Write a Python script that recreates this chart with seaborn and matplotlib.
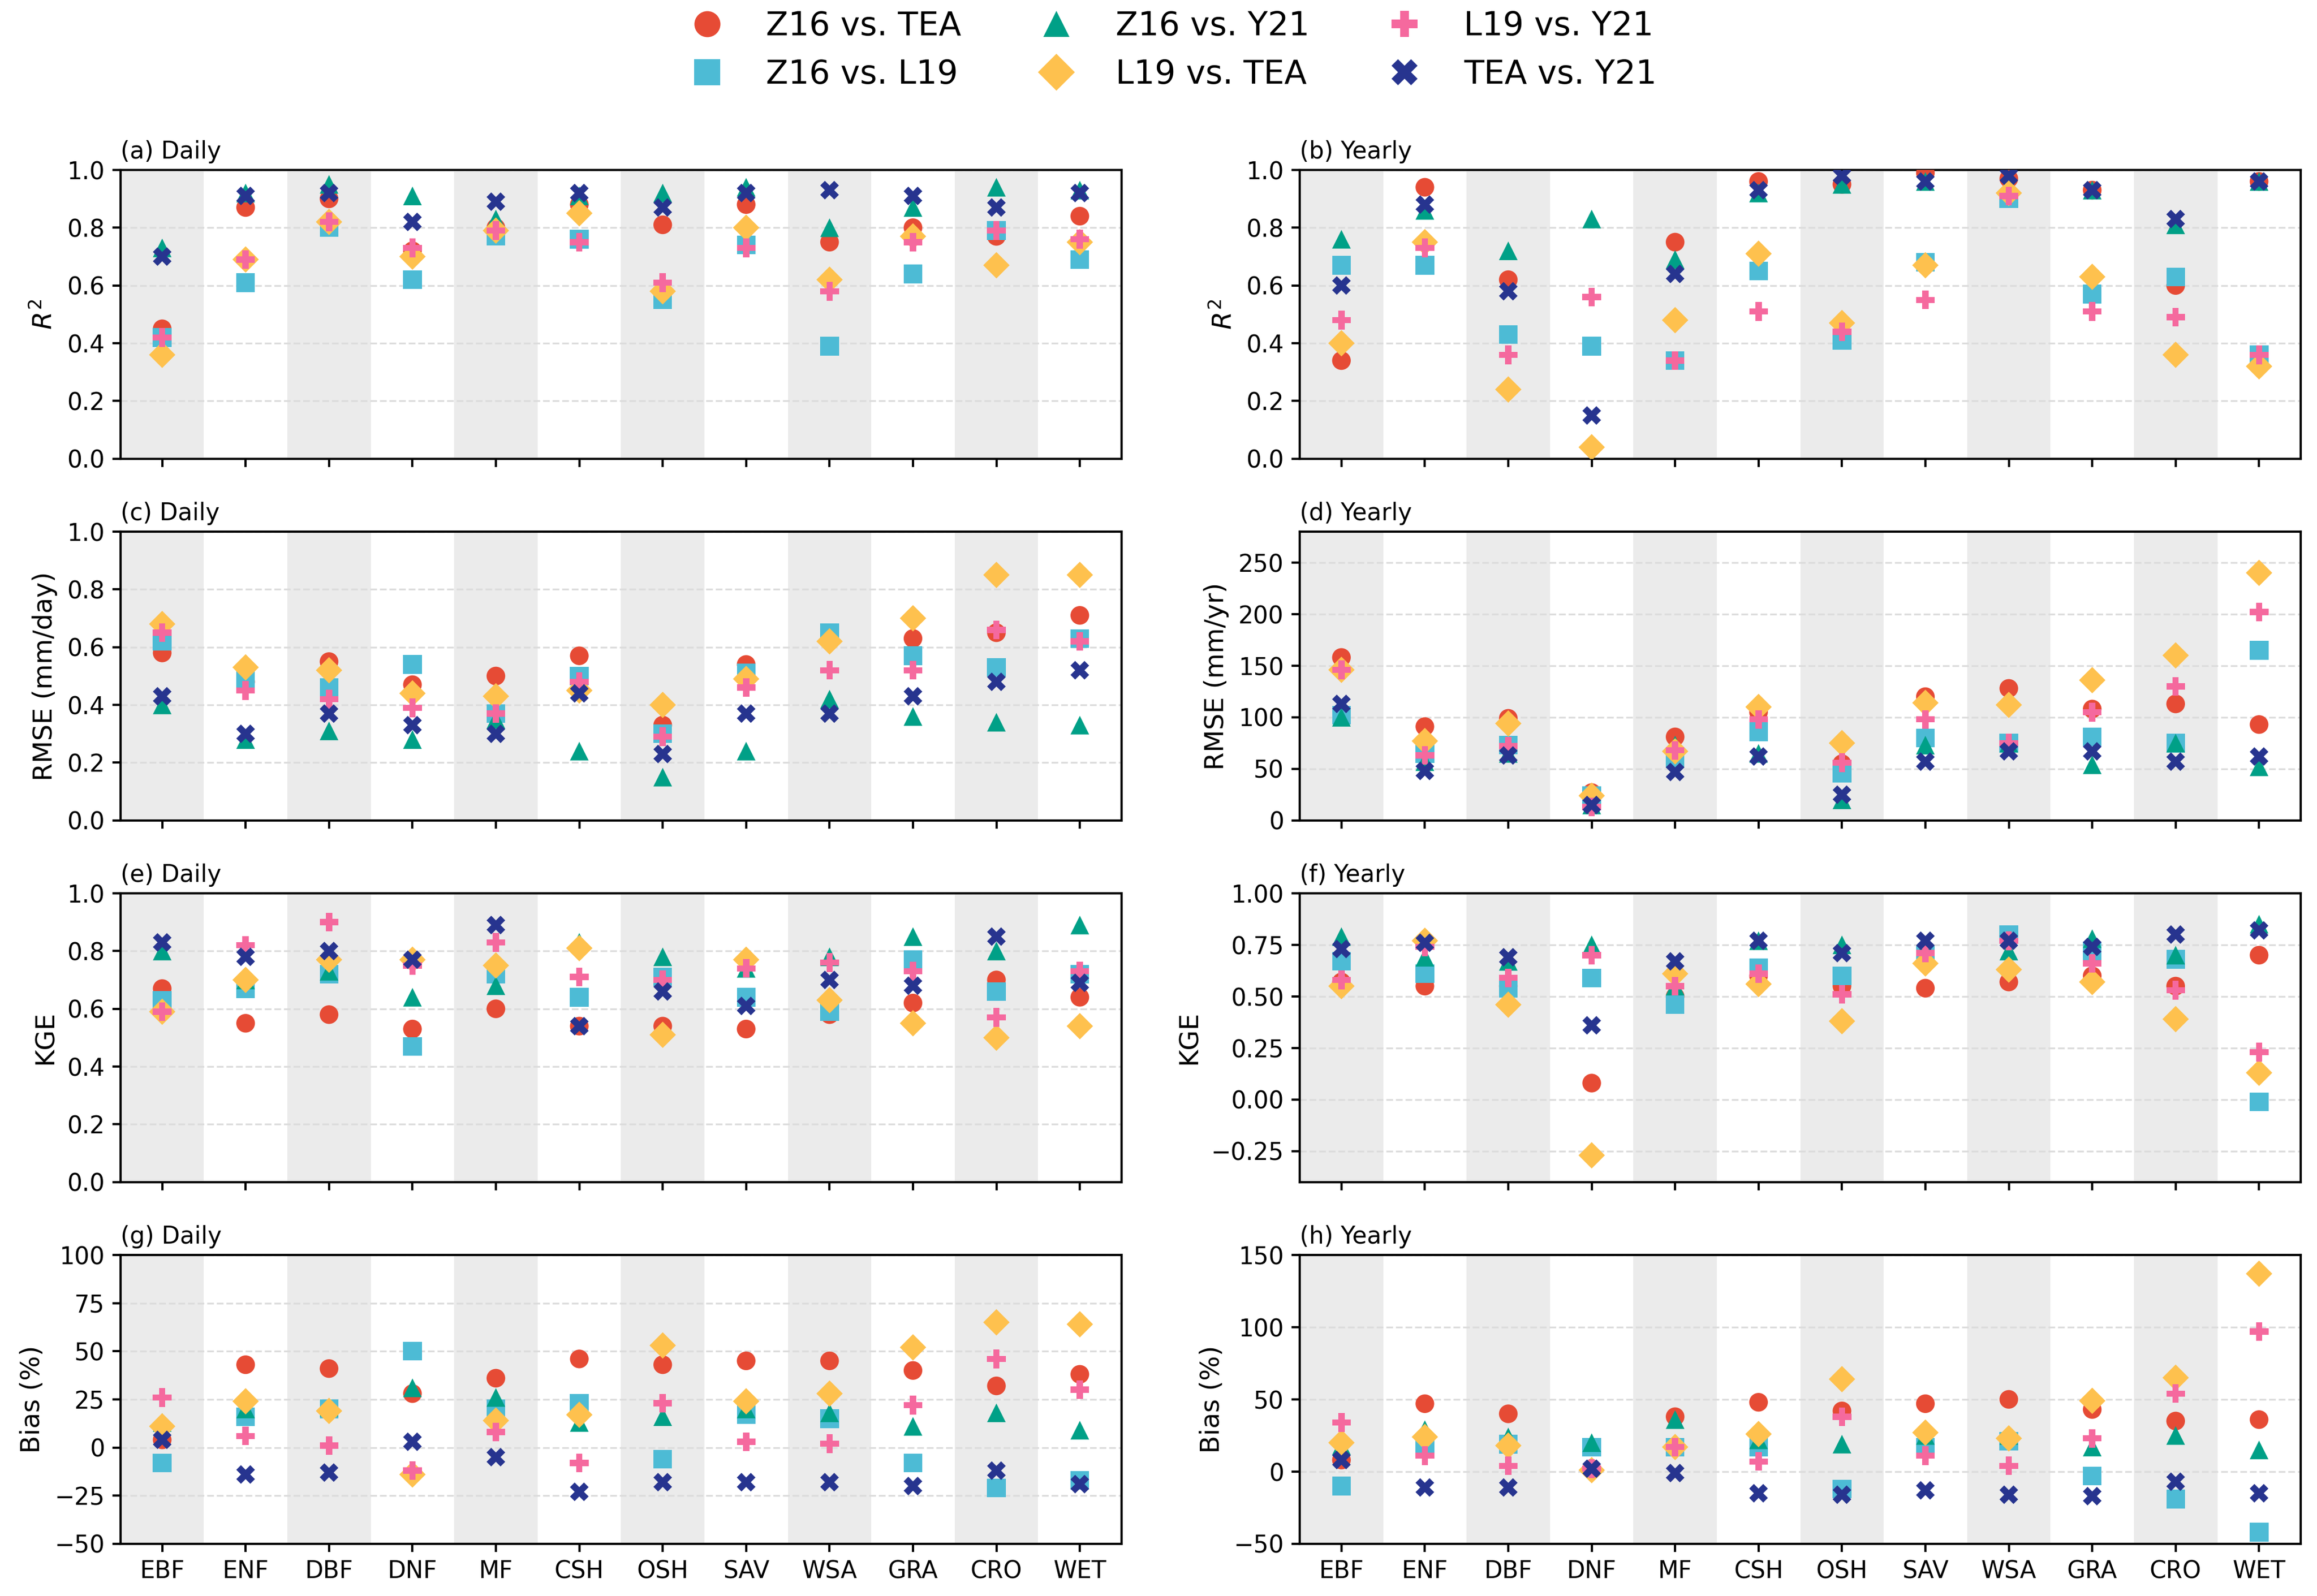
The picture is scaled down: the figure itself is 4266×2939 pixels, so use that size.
import numpy as np
import pandas as pd
import matplotlib
matplotlib.use("Agg")
import matplotlib.pyplot as plt
from matplotlib.lines import Line2D
import seaborn as sns

# ---------------- data ----------------
biomes = ["EBF", "ENF", "DBF", "DNF", "MF", "CSH", "OSH", "SAV", "WSA", "GRA", "CRO", "WET"]
pairs = ["Z16 vs. TEA", "Z16 vs. L19", "Z16 vs. Y21", "L19 vs. TEA", "L19 vs. Y21", "TEA vs. Y21"]
colors = ["#E64B35", "#4DBBD5", "#00A087", "#FEC14E", "#F5699E", "#27348F"]
markers = ["o", "s", "^", "D", "P", "X"]

# each panel: rows in the order of `pairs`, columns in the order of `biomes`
r2_daily = [
    [0.45, 0.87, 0.90, 0.72, 0.80, 0.88, 0.81, 0.88, 0.75, 0.80, 0.77, 0.84],
    [0.42, 0.61, 0.80, 0.62, 0.77, 0.76, 0.55, 0.74, 0.39, 0.64, 0.79, 0.69],
    [0.73, 0.92, 0.95, 0.91, 0.83, 0.91, 0.92, 0.94, 0.80, 0.87, 0.94, 0.93],
    [0.36, 0.69, 0.82, 0.70, 0.79, 0.85, 0.58, 0.80, 0.62, 0.77, 0.67, 0.75],
    [0.42, 0.69, 0.82, 0.73, 0.79, 0.75, 0.61, 0.73, 0.58, 0.75, 0.79, 0.76],
    [0.70, 0.91, 0.92, 0.82, 0.89, 0.92, 0.87, 0.92, 0.93, 0.91, 0.87, 0.92],
]
r2_yearly = [
    [0.34, 0.94, 0.62, np.nan, 0.75, 0.96, 0.95, 0.99, 0.97, 0.93, 0.60, 0.96],
    [0.67, 0.67, 0.43, 0.39, 0.34, 0.65, 0.41, 0.68, 0.90, 0.57, 0.63, 0.36],
    [0.76, 0.86, 0.72, 0.83, 0.69, 0.92, 0.95, 0.96, 0.95, 0.93, 0.81, 0.96],
    [0.40, 0.75, 0.24, 0.04, 0.48, 0.71, 0.47, 0.67, 0.92, 0.63, 0.36, 0.32],
    [0.48, 0.73, 0.36, 0.56, 0.34, 0.51, 0.44, 0.55, 0.91, 0.51, 0.49, 0.36],
    [0.60, 0.88, 0.58, 0.15, 0.64, 0.93, 0.98, 0.96, 0.98, 0.93, 0.83, 0.96],
]
rmse_daily = [
    [0.58, 0.48, 0.55, 0.47, 0.50, 0.57, 0.33, 0.54, 0.63, 0.63, 0.65, 0.71],
    [0.62, 0.49, 0.46, 0.54, 0.37, 0.50, 0.30, 0.51, 0.65, 0.57, 0.53, 0.63],
    [0.40, 0.28, 0.31, 0.28, 0.35, 0.24, 0.15, 0.24, 0.42, 0.36, 0.34, 0.33],
    [0.68, 0.53, 0.52, 0.44, 0.43, 0.45, 0.40, 0.49, 0.62, 0.70, 0.85, 0.85],
    [0.65, 0.45, 0.42, 0.39, 0.37, 0.48, 0.29, 0.46, 0.52, 0.52, 0.66, 0.62],
    [0.43, 0.30, 0.37, 0.33, 0.30, 0.44, 0.23, 0.37, 0.37, 0.43, 0.48, 0.52],
]
rmse_yearly = [
    [158, 91, 99, 27, 81, 105, 55, 120, 128, 108, 113, 93],
    [102, 65, 73, 24, 60, 86, 46, 80, 75, 81, 75, 165],
    [100, 57, 65, 15, 73, 65, 20, 73, 75, 54, 75, 52],
    [146, 77, 94, 24, 67, 110, 75, 114, 112, 136, 160, 240],
    [146, 63, 72, 13, 68, 98, 56, 98, 75, 105, 130, 202],
    [113, 48, 63, 15, 47, 62, 25, 57, 67, 67, 57, 62],
]
kge_daily = [
    [0.67, 0.55, 0.58, 0.53, 0.60, 0.54, 0.54, 0.53, 0.58, 0.62, 0.70, 0.64],
    [0.63, 0.67, 0.72, 0.47, 0.72, 0.64, 0.71, 0.64, 0.59, 0.77, 0.66, 0.72],
    [0.80, 0.70, 0.73, 0.64, 0.68, 0.83, 0.78, 0.74, 0.78, 0.85, 0.80, 0.89],
    [0.59, 0.70, 0.77, 0.77, 0.75, 0.81, 0.51, 0.77, 0.63, 0.55, 0.50, 0.54],
    [0.59, 0.82, 0.90, 0.75, 0.83, 0.71, 0.70, 0.74, 0.76, 0.73, 0.57, 0.73],
    [0.83, 0.78, 0.80, 0.77, 0.89, 0.54, 0.66, 0.61, 0.70, 0.68, 0.85, 0.69],
]
kge_yearly = [
    [0.57, 0.55, 0.55, 0.08, 0.50, 0.60, 0.55, 0.54, 0.57, 0.60, 0.55, 0.70],
    [0.67, 0.61, 0.54, 0.59, 0.46, 0.64, 0.60, 0.70, 0.80, 0.72, 0.68, -0.01],
    [0.79, 0.69, 0.67, 0.75, 0.55, 0.77, 0.75, 0.74, 0.72, 0.78, 0.70, 0.85],
    [0.55, 0.77, 0.46, -0.27, 0.61, 0.56, 0.38, 0.66, 0.63, 0.57, 0.39, 0.13],
    [0.58, 0.74, 0.59, 0.70, 0.55, 0.61, 0.51, 0.71, 0.77, 0.66, 0.53, 0.23],
    [0.73, 0.76, 0.69, 0.36, 0.67, 0.77, 0.71, 0.77, 0.77, 0.74, 0.80, 0.82],
]
bias_daily = [
    [4, 43, 41, 28, 36, 46, 43, 45, 45, 40, 32, 38],
    [-8, 16, 20, 50, 20, 23, -6, 17, 15, -8, -21, -17],
    [13, 20, 21, 31, 26, 13, 16, 20, 18, 11, 18, 9],
    [11, 24, 19, -14, 14, 17, 53, 24, 28, 52, 65, 64],
    [26, 6, 1, -12, 8, -8, 23, 3, 2, 22, 46, 30],
    [4, -14, -13, 3, -5, -23, -18, -18, -18, -20, -12, -19],
]
bias_yearly = [
    [8, 47, 40, 2, 38, 48, 42, 47, 50, 43, 35, 36],
    [-10, 16, 19, 17, 17, 17, -12, 17, 21, -3, -19, -42],
    [18, 29, 24, 20, 36, 22, 19, 25, 25, 17, 25, 15],
    [20, 24, 18, 1, 17, 26, 64, 27, 23, 49, 65, 137],
    [34, 11, 4, 2, 17, 7, 38, 11, 4, 23, 54, 97],
    [8, -11, -11, 2, -1, -15, -16, -13, -16, -17, -7, -15],
]

panel_titles = ["(a) Daily", "(b) Yearly", "(c) Daily", "(d) Yearly",
                "(e) Daily", "(f) Yearly", "(g) Daily", "(h) Yearly"]
panel_data = [r2_daily, r2_yearly, rmse_daily, rmse_yearly,
              kge_daily, kge_yearly, bias_daily, bias_yearly]
ylabels = ["$R^2$", "$R^2$", "RMSE (mm/day)", "RMSE (mm/yr)", "KGE", "KGE", "Bias (%)", "Bias (%)"]
ylims = [(0, 1), (0, 1), (0, 1), (0, 280), (0, 1), (-0.4, 1.0), (-50, 100), (-50, 150)]
yticks = [np.arange(0, 1.01, 0.2), np.arange(0, 1.01, 0.2), np.arange(0, 1.01, 0.2),
          np.arange(0, 251, 50), np.arange(0, 1.01, 0.2), np.arange(-0.25, 1.01, 0.25),
          np.arange(-50, 101, 25), np.arange(-50, 151, 50)]

# ---------------- plot ----------------
plt.rcParams["font.family"] = ["DejaVu Sans"]
plt.rcParams["axes.linewidth"] = 1.0
plt.rcParams["xtick.major.width"] = 1.0
plt.rcParams["ytick.major.width"] = 1.0

fig, axes = plt.subplots(4, 2, figsize=(14.22, 9.797), dpi=300)
fig.subplots_adjust(left=0.052, right=0.993, top=0.8935, bottom=0.0327,
                    wspace=0.178, hspace=0.252)

palette = dict(zip(pairs, colors))
marker_map = dict(zip(pairs, markers))

for k, ax in enumerate(axes.flat):
    vals = panel_data[k]
    df = pd.DataFrame({
        "Biome": np.tile(biomes, len(pairs)),
        "Pair": np.repeat(pairs, len(biomes)),
        "Value": np.concatenate([np.asarray(v, float) for v in vals]),
    })
    df["Biome"] = pd.Categorical(df["Biome"], categories=biomes, ordered=True)
    df["xpos"] = df["Biome"].cat.codes
    df = df.dropna(subset=["Value"])

    for i in range(0, len(biomes), 2):
        ax.axvspan(i - 0.5, i + 0.5, color="#ebebeb", lw=0, zorder=0)

    sns.scatterplot(data=df, x="xpos", y="Value", hue="Pair", style="Pair",
                    hue_order=pairs, style_order=pairs, palette=palette,
                    markers=marker_map, s=68, linewidth=0, ax=ax,
                    legend=False, zorder=3)

    ax.set_xlim(-0.5, 11.5)
    ax.set_ylim(*ylims[k])
    ax.set_yticks(yticks[k])
    ax.set_xticks(range(len(biomes)))
    if k >= 6:
        ax.set_xticklabels(biomes, fontsize=10.5)
    else:
        ax.set_xticklabels([])
    ax.tick_params(axis="y", labelsize=10.5)
    ax.set_xlabel("")
    ax.set_ylabel(ylabels[k], fontsize=11.5)
    ax.yaxis.grid(True, linestyle="--", color="#dcdcdc", lw=0.8)
    ax.set_axisbelow(True)
    ax.set_title(panel_titles[k], loc="left", fontsize=10.5, pad=5)

handles = [Line2D([], [], marker=m, color=c, linestyle="", markersize=11.5,
                  markeredgewidth=0)
           for m, c in zip(markers, colors)]
fig.legend(handles, pairs, loc="upper center", bbox_to_anchor=(0.503, 1.012),
           ncol=3, frameon=False, fontsize=14.5, columnspacing=1.9,
           handletextpad=0.8, labelspacing=0.5)

fig.savefig("out.png", dpi=300)
